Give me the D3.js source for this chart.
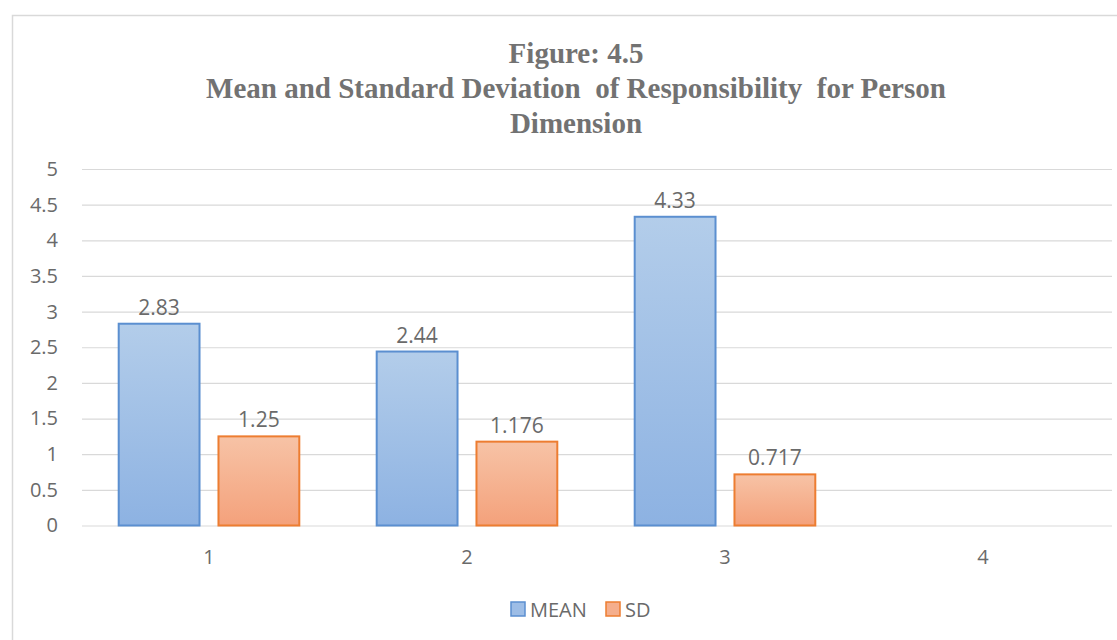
<!DOCTYPE html>
<html>
<head>
<meta charset="utf-8">
<script src="https://cdn.jsdelivr.net/npm/d3@7"></script>
<style>
  html, body { margin: 0; padding: 0; background: #fff; }
  svg { display: block; }
</style>
</head>
<body>
<svg id="chart" width="1117" height="640"></svg>
<script>
// Chart data
const categories = ["1", "2", "3", "4"];
const seriesNames = ["MEAN", "SD"];
const meanValues = [2.83, 2.44, 4.33, null];
const sdValues = [1.25, 1.176, 0.717, null];
const meanLabels = ["2.83", "2.44", "4.33", null];
const sdLabels = ["1.25", "1.176", "0.717", null];
const yTicks = [0, 0.5, 1, 1.5, 2, 2.5, 3, 3.5, 4, 4.5, 5];
const titleLines = ["Figure: 4.5", "Mean and Standard Deviation  of Responsibility  for Person", "Dimension"];

const svg = d3.select("#chart");
const W = 1117, H = 640;
const plot = { left: 80, right: 1112, top: 169, bottom: 525.5 };
const textFont = "'Open Sans', 'Liberation Sans', sans-serif";
const textColor = "#6a6a6a";

// outer chart border
svg.append("rect")
  .attr("x", 12.5).attr("y", 15.5)
  .attr("width", W).attr("height", H)
  .attr("fill", "#fff").attr("stroke", "#d9d9d9").attr("stroke-width", 1.5);

// gradients for bar fills
const defs = svg.append("defs");
const grads = [
  { id: "g-mean", top: "#b3cdea", bottom: "#8db2e2" },
  { id: "g-sd", top: "#f7c3a6", bottom: "#f4a17b" }
];
grads.forEach(g => {
  const lg = defs.append("linearGradient").attr("id", g.id)
    .attr("x1", 0).attr("y1", 0).attr("x2", 0).attr("y2", 1);
  lg.append("stop").attr("offset", "0%").attr("stop-color", g.top);
  lg.append("stop").attr("offset", "100%").attr("stop-color", g.bottom);
});
const fills = { MEAN: "url(#g-mean)", SD: "url(#g-sd)" };
const strokes = { MEAN: "#5b8fd0", SD: "#ed7d31" };
const legendFills = { MEAN: "#9dbde6", SD: "#f5ae8c" };

// title
const title = svg.append("text")
  .attr("text-anchor", "middle")
  .attr("font-family", "'Liberation Serif', 'Times New Roman', serif")
  .attr("font-weight", "bold")
  .attr("font-size", 29)
  .attr("fill", "#727272")
  .style("white-space", "pre");
titleLines.forEach((t, i) => {
  title.append("tspan").attr("x", 576).attr("y", 63 + i * 35).text(t);
});

// scales
const x = d3.scaleBand().domain(categories).range([plot.left, plot.right]).paddingInner(0.3).paddingOuter(0.15);
const xs = d3.scaleBand().domain(seriesNames).range([0, x.bandwidth()]).paddingInner(0.19);
const y = d3.scaleLinear().domain([0, 5]).range([plot.bottom, plot.top]);

// gridlines
svg.append("g")
  .attr("transform", `translate(${plot.left + 2},0)`)
  .call(d3.axisLeft(y).tickValues(yTicks).tickSize(-(plot.right - plot.left - 2)).tickFormat(""))
  .call(g => g.select(".domain").remove())
  .call(g => g.selectAll("line").attr("stroke", "#d9d9d9").attr("stroke-width", 1.2));

// y axis labels
svg.append("g")
  .attr("transform", `translate(58,0)`)
  .call(d3.axisLeft(y).tickValues(yTicks).tickSize(0).tickPadding(0).tickFormat(d => String(d)))
  .call(g => g.select(".domain").remove())
  .call(g => g.selectAll("text")
    .attr("font-family", textFont).attr("font-size", 20).attr("fill", textColor));

// x axis labels
svg.append("g")
  .attr("transform", `translate(0,${plot.bottom})`)
  .call(d3.axisBottom(x).tickSize(0).tickPadding(24))
  .call(g => g.select(".domain").remove())
  .call(g => g.selectAll("text")
    .attr("font-family", textFont).attr("font-size", 20).attr("fill", textColor));

// bars
const rows = categories.map((c, i) => ({
  cat: c,
  items: [
    { key: "MEAN", value: meanValues[i], label: meanLabels[i] },
    { key: "SD", value: sdValues[i], label: sdLabels[i] }
  ].filter(d => d.value != null)
}));

const groups = svg.append("g").selectAll("g").data(rows).join("g")
  .attr("transform", d => `translate(${x(d.cat)},0)`);

groups.selectAll("rect").data(d => d.items).join("rect")
  .attr("x", d => xs(d.key))
  .attr("y", d => y(d.value))
  .attr("width", xs.bandwidth())
  .attr("height", d => y(0) - y(d.value))
  .attr("fill", d => fills[d.key])
  .attr("stroke", d => strokes[d.key])
  .attr("stroke-width", 2);

groups.selectAll("text").data(d => d.items).join("text")
  .attr("x", d => xs(d.key) + xs.bandwidth() / 2)
  .attr("y", d => y(d.value) - 9)
  .attr("text-anchor", "middle")
  .attr("font-family", textFont).attr("font-size", 21).attr("fill", textColor)
  .text(d => d.label);

// legend
const legend = svg.append("g").attr("transform", "translate(510,601)");
const legendX = { MEAN: 0, SD: 95 };
seriesNames.forEach(k => {
  const g = legend.append("g").attr("transform", `translate(${legendX[k]},0)`);
  g.append("rect").attr("x", 1).attr("y", 1).attr("width", 14).attr("height", 14)
    .attr("fill", legendFills[k]).attr("stroke", strokes[k]).attr("stroke-width", 1.5);
  g.append("text").attr("x", 20).attr("y", 15.5)
    .attr("font-family", textFont).attr("font-size", 20).attr("fill", textColor)
    .text(k);
});
</script>
</body>
</html>
